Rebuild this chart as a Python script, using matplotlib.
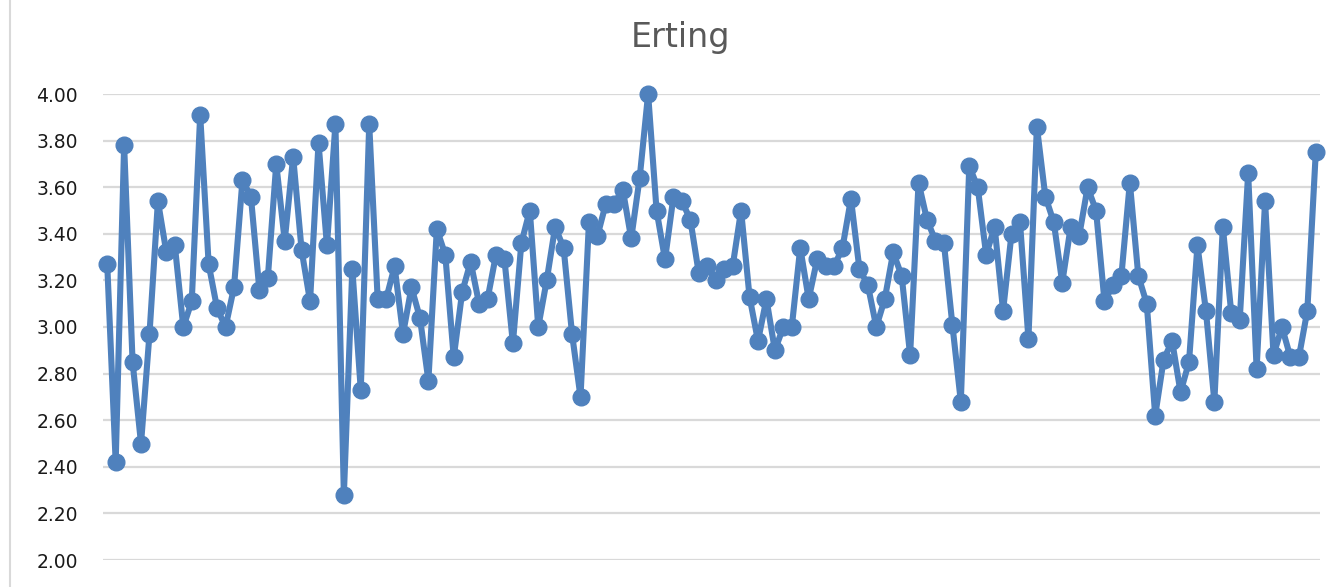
import matplotlib
matplotlib.use('Agg')
import matplotlib.pyplot as plt
from matplotlib.lines import Line2D

# values, one per category
erting = [
    3.27, 2.42, 3.78, 2.85, 2.50, 2.97, 3.54, 3.32, 3.35, 3.00,
    3.11, 3.91, 3.27, 3.08, 3.00, 3.17, 3.63, 3.56, 3.16, 3.21,
    3.70, 3.37, 3.73, 3.33, 3.11, 3.79, 3.35, 3.87, 2.28, 3.25,
    2.73, 3.87, 3.12, 3.12, 3.26, 2.97, 3.17, 3.04, 2.77, 3.42,
    3.31, 2.87, 3.15, 3.28, 3.10, 3.12, 3.31, 3.29, 2.93, 3.36,
    3.50, 3.00, 3.20, 3.43, 3.34, 2.97, 2.70, 3.45, 3.39, 3.53,
    3.53, 3.59, 3.38, 3.64, 4.00, 3.50, 3.29, 3.56, 3.54, 3.46,
    3.23, 3.26, 3.20, 3.25, 3.26, 3.50, 3.13, 2.94, 3.12, 2.90,
    3.00, 3.00, 3.34, 3.12, 3.29, 3.26, 3.26, 3.34, 3.55, 3.25,
    3.18, 3.00, 3.12, 3.32, 3.22, 2.88, 3.62, 3.46, 3.37, 3.36,
    3.01, 2.68, 3.69, 3.60, 3.31, 3.43, 3.07, 3.40, 3.45, 2.95,
    3.86, 3.56, 3.45, 3.19, 3.43, 3.39, 3.60, 3.50, 3.11, 3.18,
    3.22, 3.62, 3.22, 3.10, 2.62, 2.86, 2.94, 2.72, 2.85, 3.35,
    3.07, 2.68, 3.43, 3.06, 3.03, 3.66, 2.82, 3.54, 2.88, 3.00,
    2.87, 2.87, 3.07, 3.75,
]
categories = list(range(1, len(erting) + 1))
y_ticks = [2.00, 2.20, 2.40, 2.60, 2.80, 3.00, 3.20, 3.40, 3.60, 3.80, 4.00]
title = 'Erting'

blue = '#4F81BD'
grid_grey = '#D9D9D9'

fig = plt.figure(figsize=(13.38, 5.87), dpi=100)
ax = fig.add_axes([103 / 1338, 1 - 560 / 587, (1320 - 103) / 1338, (560 - 94) / 587])

ax.plot(categories, erting, color=blue, linewidth=4.4, marker='o',
        markersize=12, markerfacecolor=blue, markeredgecolor=blue,
        clip_on=False, zorder=3)

ax.set_xlim(0.5, len(erting) + 0.5)
ax.set_ylim(2.0, 4.0)
ax.set_yticks(y_ticks)
ax.set_yticklabels(['%.2f' % v for v in y_ticks])
ax.set_xticks([])

ax.grid(axis='y', color=grid_grey, linewidth=1.6, zorder=0)
ax.set_axisbelow(True)
for side in ['top', 'right', 'left', 'bottom']:
    ax.spines[side].set_visible(False)
ax.tick_params(axis='y', length=0, pad=18, labelsize=13.5, labelcolor='#1a1a1a')

fig.text(681 / 1338, 1 - 38 / 587, title, ha='center', va='center',
         fontsize=24, color='#595959')

# thin border on the left edge of the chart area
fig.add_artist(Line2D([10 / 1338, 10 / 1338], [0, 1], color=grid_grey,
                      linewidth=1.5, transform=fig.transFigure))

fig.savefig('out.png', dpi=100)
